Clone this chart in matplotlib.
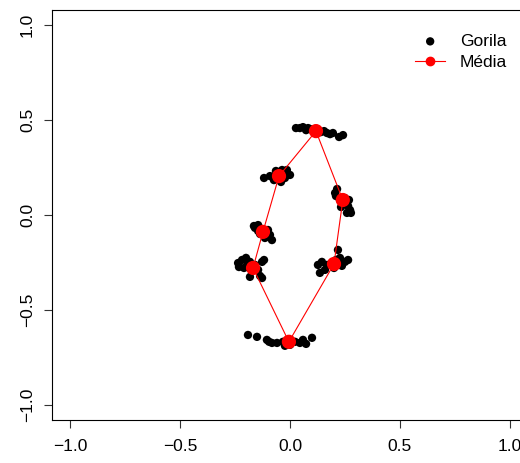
import matplotlib
matplotlib.use("Agg")
import matplotlib.pyplot as plt
import numpy as np

plt.rcParams['font.family'] = ['Liberation Sans', 'DejaVu Sans']

# Gorilla landmark coordinates (Procrustes-aligned), grouped per landmark
lm1_x = [0.027, 0.045, 0.059, 0.073, 0.082, 0.091, 0.105, 0.127, 0.141, 0.155, 0.168, 0.182, 0.195, 0.223, 0.241]
lm1_y = [0.458, 0.458, 0.463, 0.447, 0.458, 0.453, 0.442, 0.447, 0.437, 0.442, 0.432, 0.426, 0.432, 0.411, 0.421]
lm2_x = [-0.118, -0.091, -0.064, -0.036, -0.014, 0.000, -0.023, -0.073, -0.055, -0.041, -0.014]
lm2_y = [0.195, 0.205, 0.232, 0.237, 0.226, 0.211, 0.195, 0.184, 0.216, 0.174, 0.237]
lm3_x = [0.214, 0.209, 0.227, 0.245, 0.264, 0.273, 0.259, 0.232, 0.268, 0.205, 0.277, 0.250]
lm3_y = [0.137, 0.100, 0.079, 0.063, 0.047, 0.026, 0.011, 0.042, 0.079, 0.116, 0.011, 0.089]
lm4_x = [-0.164, -0.145, -0.127, -0.100, -0.091, -0.114, -0.145, -0.082, -0.159, -0.136]
lm4_y = [-0.058, -0.053, -0.074, -0.079, -0.105, -0.121, -0.084, -0.132, -0.068, -0.100]
lm5_x = [-0.236, -0.218, -0.200, -0.182, -0.159, -0.145, -0.209, -0.232, -0.127, -0.136, -0.182, -0.118, -0.127, -0.191]
lm5_y = [-0.253, -0.237, -0.226, -0.247, -0.263, -0.289, -0.279, -0.274, -0.247, -0.321, -0.326, -0.237, -0.332, -0.258]
lm6_x = [0.127, 0.145, 0.168, 0.186, 0.209, 0.227, 0.250, 0.218, 0.159, 0.136, 0.236, 0.200, 0.264]
lm6_y = [-0.263, -0.247, -0.263, -0.258, -0.237, -0.226, -0.247, -0.184, -0.289, -0.305, -0.268, -0.279, -0.237]
lm7_x = [-0.191, -0.150, -0.105, -0.095, -0.059, -0.032, 0.023, 0.045, 0.059, 0.100, -0.082, 0.000, -0.023, 0.073]
lm7_y = [-0.632, -0.642, -0.658, -0.668, -0.674, -0.668, -0.668, -0.674, -0.658, -0.647, -0.674, -0.684, -0.689, -0.679]

all_x = lm1_x + lm2_x + lm3_x + lm4_x + lm5_x + lm6_x + lm7_x
all_y = lm1_y + lm2_y + lm3_y + lm4_y + lm5_y + lm6_y + lm7_y

# Mean shape (outline order)
mean_x = [0.118, 0.240, 0.200, -0.005, -0.168, -0.123, -0.050, 0.118]
mean_y = [0.442, 0.079, -0.258, -0.668, -0.279, -0.089, 0.205, 0.442]

ticks = [-1.0, -0.5, 0.0, 0.5, 1.0]
tick_labels = ["\u22121.0", "\u22120.5", "0.0", "0.5", "1.0"]
legend_labels = ["Gorila", "Média"]

W, H = 520, 463
fig = plt.figure(figsize=(W / 100, H / 100), dpi=100)
ax = fig.add_axes([52.4 / W, 43 / H, 475.2 / W, 410 / H])

ax.scatter(all_x, all_y, s=36, c='black', edgecolors='none', label=legend_labels[0], zorder=2)
ax.plot(mean_x, mean_y, color='red', lw=0.8, zorder=3)
ax.scatter(mean_x[:-1], mean_y[:-1], s=105, c='red', edgecolors='none', zorder=4)
ax.plot([], [], color='red', lw=0.8, marker='o', markersize=6, label=legend_labels[1])

ax.set_xlim(-1.08, 1.08)
ax.set_ylim(-1.08, 1.08)
ax.set_xticks(ticks)
ax.set_xticklabels(tick_labels)
ax.set_yticks(ticks)
ax.set_yticklabels(tick_labels, rotation=90, va='center')
ax.tick_params(direction='out', length=5.5, width=0.8, labelsize=12.5, color='#333333')
ax.tick_params(axis='x', pad=8)
ax.tick_params(axis='y', pad=7)
for s in ax.spines.values():
    s.set_linewidth(0.8)

leg = ax.legend(loc='upper left', bbox_to_anchor=(0.763, 0.942), frameon=False,
                borderpad=0, borderaxespad=0, handlelength=1.75, handletextpad=0.85,
                labelspacing=0.36, fontsize=12.5, markerscale=1.0)

fig.savefig("out.png", dpi=100)
